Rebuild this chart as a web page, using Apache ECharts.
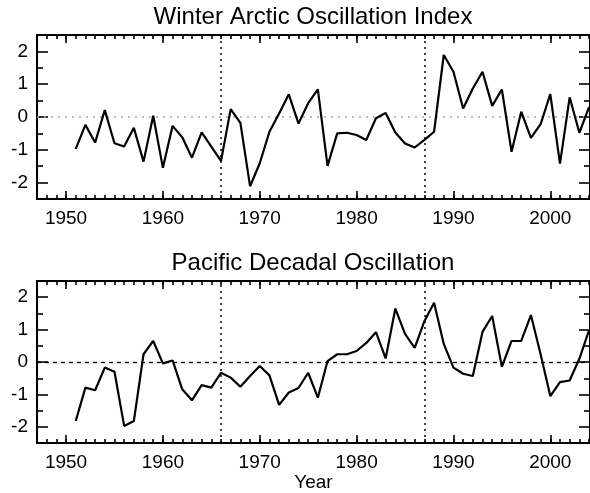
<!DOCTYPE html>
<html>
<head>
<meta charset="utf-8">
<script src="https://cdn.jsdelivr.net/npm/echarts@6/dist/echarts.min.js"></script>
<style>html,body{margin:0;padding:0;background:#fff;}#c{width:590px;height:493px;}</style>
</head>
<body>
<div id="c"></div>
<script>
const years = [1951,1952,1953,1954,1955,1956,1957,1958,1959,1960,1961,1962,1963,1964,1965,1966,1967,1968,1969,1970,1971,1972,1973,1974,1975,1976,1977,1978,1979,1980,1981,1982,1983,1984,1985,1986,1987,1988,1989,1990,1991,1992,1993,1994,1995,1996,1997,1998,1999,2000,2001,2002,2003,2004];
const aoValues = [-0.97,-0.24,-0.78,0.21,-0.80,-0.90,-0.33,-1.36,0.04,-1.55,-0.27,-0.62,-1.24,-0.47,-0.90,-1.34,0.24,-0.18,-2.11,-1.41,-0.45,0.11,0.69,-0.20,0.42,0.84,-1.49,-0.50,-0.48,-0.55,-0.70,-0.04,0.12,-0.47,-0.81,-0.93,-0.70,-0.45,1.89,1.38,0.26,0.87,1.38,0.34,0.84,-1.06,0.16,-0.64,-0.22,0.70,-1.42,0.60,-0.48,0.30];
const pdoValues = [-1.82,-0.79,-0.87,-0.17,-0.30,-1.97,-1.82,0.24,0.65,-0.04,0.05,-0.84,-1.18,-0.71,-0.79,-0.33,-0.48,-0.76,-0.43,-0.12,-0.41,-1.32,-0.94,-0.80,-0.33,-1.10,0.03,0.24,0.24,0.34,0.59,0.92,0.11,1.65,0.87,0.44,1.26,1.83,0.56,-0.17,-0.36,-0.43,0.93,1.42,-0.15,0.65,0.65,1.45,0.24,-1.05,-0.62,-0.57,0.10,0.98];
const titles = ['Winter Arctic Oscillation Index', 'Pacific Decadal Oscillation'];
const xTickLabels = [1950,1960,1970,1980,1990,2000];
const yTickLabels = [-2,-1,0,1,2];
const yMinorTicks = [-2.5,-1.5,-0.5,0.5,1.5,2.5];
const markYears = [1966,1987];
const xAxisName = 'Year';

const xMin = 1947, xMax = 2004.1, yMin = -2.5, yMax = 2.5;
const xMinorTicks = [];
for (let y = 1948; y <= 2004; y++) xMinorTicks.push(y);

const FONT = 'Liberation Sans, Arial, sans-serif';
const grids = [
  {left: 37, right: 0, top: 35, height: 164},
  {left: 37, right: 0, top: 281, height: 164}
];
const xAxes = [], yAxes = [], series = [], titleArr = [];
const titleTops = [5, 251];
const zeroStyles = [
  {color: '#a8a8a8', width: 1.5, type: [2, 5]},
  {color: '#000', width: 1.3, type: [4, 4]}
];

function xAx(g, pos, ticks, len, withLine, withLabel, name) {
  const a = {
    type: 'value', gridIndex: g, position: pos, min: xMin, max: xMax,
    axisLine: {show: withLine, onZero: false, lineStyle: {color: '#000', width: 2}},
    axisTick: {show: true, inside: true, length: len, customValues: ticks, lineStyle: {color: '#000', width: 1.6}},
    axisLabel: withLabel ? {show: true, customValues: xTickLabels, margin: 10, color: '#000', fontSize: 19, fontFamily: FONT, formatter: v => String(v)} : {show: false},
    splitLine: {show: false}
  };
  if (name) {
    a.name = name; a.nameLocation = 'middle'; a.nameGap = 29;
    a.nameTextStyle = {color: '#000', fontSize: 19, fontFamily: FONT};
  }
  xAxes.push(a);
  return xAxes.length - 1;
}
function yAx(g, pos, ticks, len, withLine, withLabel) {
  yAxes.push({
    type: 'value', gridIndex: g, position: pos, min: yMin, max: yMax,
    axisLine: {show: withLine, onZero: false, lineStyle: {color: '#000', width: 2}},
    axisTick: {show: true, inside: true, length: len, customValues: ticks, lineStyle: {color: '#000', width: 1.6}},
    axisLabel: withLabel ? {show: true, customValues: yTickLabels, margin: 9, color: '#000', fontSize: 19, fontFamily: FONT, formatter: v => String(v)} : {show: false},
    splitLine: {show: false}
  });
  return yAxes.length - 1;
}

[aoValues, pdoValues].forEach((vals, g) => {
  const xi = xAx(g, 'bottom', xTickLabels, 8, true, true, g === 1 ? xAxisName : null);
  xAx(g, 'bottom', xMinorTicks, 4, false, false);
  xAx(g, 'top', xTickLabels, 8, true, false);
  xAx(g, 'top', xMinorTicks, 4, false, false);
  const yi = yAx(g, 'left', yTickLabels, 11, true, true);
  yAx(g, 'left', yMinorTicks, 6, false, false);
  yAx(g, 'right', yTickLabels, 11, true, false);
  yAx(g, 'right', yMinorTicks, 6, false, false);
  titleArr.push({
    text: titles[g], left: 313, top: titleTops[g], textAlign: 'center', padding: 0,
    textStyle: {color: '#000', fontSize: 24, fontWeight: 'normal', fontFamily: FONT}
  });
  series.push({
    type: 'line', xAxisIndex: xi, yAxisIndex: yi,
    data: years.map((yr, i) => [yr, vals[i]]),
    symbol: 'none', lineStyle: {color: '#000', width: 2.2}, z: 5,
    markLine: {
      silent: true, symbol: 'none', label: {show: false}, animation: false,
      data: [
        {yAxis: 0, lineStyle: zeroStyles[g]},
        ...markYears.map(v => ({xAxis: v, lineStyle: {color: '#000', width: 1.5, type: [2, 4]}}))
      ]
    }
  });
});

const chart = echarts.init(document.getElementById('c'), null, {renderer: 'canvas'});
chart.setOption({
  animation: false,
  backgroundColor: '#fff',
  title: titleArr,
  grid: grids,
  xAxis: xAxes,
  yAxis: yAxes,
  series: series
});
</script>
</body>
</html>
